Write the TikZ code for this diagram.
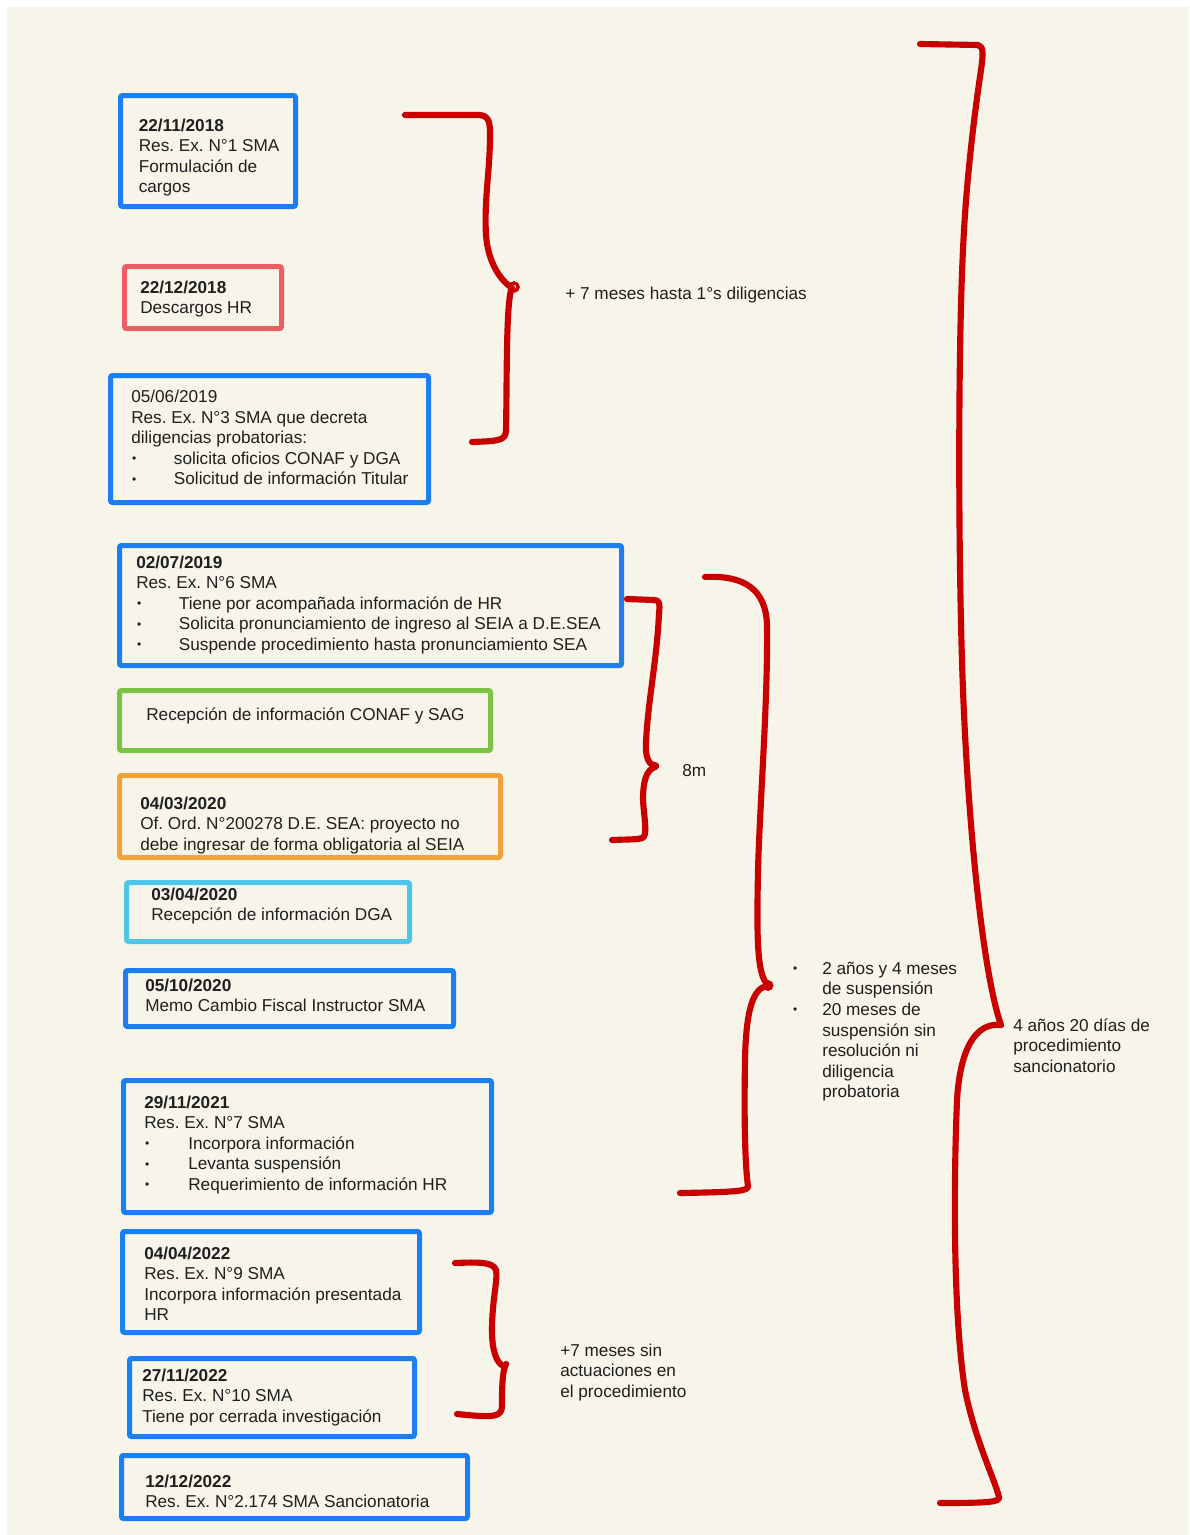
\documentclass[tikz,border=0pt]{standalone}
\usepackage{fontspec}
\setmainfont{Liberation Sans}
\usetikzlibrary{fit}
\frenchspacing
\definecolor{bgcream}{HTML}{F7F4E9}
\definecolor{cblue}{HTML}{1B7FF0}
\definecolor{cpink}{HTML}{E95F65}
\definecolor{cgreen}{HTML}{7CC243}
\definecolor{corange}{HTML}{F2A23A}
\definecolor{clight}{HTML}{4FC5EA}
\definecolor{cred}{HTML}{C80000}
\newcommand\tline[1]{\hbox{#1}}
\newcommand\tbul[2]{\hbox{\makebox[#1][l]{\kern0.6pt\raisebox{1.2pt}{\fontsize{9}{9}\selectfont •}}#2}}
\newcommand\tstack[1]{\vtop{\baselineskip=15.45pt\lineskip=0pt\lineskiplimit=-100pt #1}}
\tikzset{
  box/.style={draw=#1, line width=3.75pt, rounded corners=1.5pt, inner sep=0pt},
  txt/.style={anchor=base west, inner sep=0pt, font=\fontsize{12.9}{15.45}\selectfont\frenchspacing, text=black!88},
  brace/.style={draw=cred, line width=4.6pt, line cap=round, line join=round},
}
\begin{document}
\begin{tikzpicture}[x=0.75pt,y=-0.75pt]
\useasboundingbox (0,0) rectangle (1189,1535);
\fill[white] (0,0) rectangle (1189,1535);
\fill[bgcream] (7,7) rectangle (1189,1535);

% boxes
\node[box=cblue,   fit={(120.5,95.5) (295.5,206.5)}] (b1) {};
\node[box=cpink,   fit={(124.5,266.5) (281.5,328.5)}] (b2) {};
\node[box=cblue,   fit={(110.5,375.5) (428.5,502.5)}] (b3) {};
\node[box=cblue,   fit={(119.5,545.5) (621.5,665.5)}] (b4) {};
\node[box=cgreen,  fit={(119.5,690.5) (490.5,750.5)}] (b5) {};
\node[box=corange, fit={(119.5,775.5) (500.5,857.5)}] (b6) {};
\node[box=clight,  fit={(126.5,882.5) (409.5,941.5)}] (b7) {};
\node[box=cblue,   fit={(125.5,970.5) (453.5,1026.5)}] (b8) {};
\node[box=cblue,   fit={(123.5,1080.5) (491.5,1212.5)}] (b9) {};
\node[box=cblue,   fit={(122.5,1231.5) (419.5,1332.5)}] (b10) {};
\node[box=cblue,   fit={(129.5,1358.5) (414.5,1436.5)}] (b11) {};
\node[box=cblue,   fit={(121.5,1455.5) (467.5,1518.5)}] (b12) {};

% box texts
\node[txt] (t1) at (138.5,131) {\tstack{\tline{\bfseries 22/11/2018}\tline{Res. Ex. N°1 SMA}\tline{Formulación de}\tline{cargos}}};
\node[txt] (t2) at (140,293) {\tstack{\tline{\bfseries 22/12/2018}\tline{Descargos HR}}};
\node[txt] (t3) at (131,402.5) {\tstack{\tline{05/06/2019}\tline{Res. Ex. N°3 SMA que decreta}\tline{diligencias probatorias:}\tbul{32pt}{solicita oficios CONAF y DGA}\tbul{32pt}{Solicitud de información Titular}}};
\node[txt] (t4) at (136,568) {\tstack{\tline{\bfseries 02/07/2019}\tline{Res. Ex. N°6 SMA}\tbul{32pt}{Tiene por acompañada información de HR}\tbul{32pt}{Solicita pronunciamiento de ingreso al SEIA a D.E.SEA}\tbul{32pt}{Suspende procedimiento hasta pronunciamiento SEA}}};
\node[txt] (t5) at (146,720) {\tstack{\tline{Recepción de información CONAF y SAG}}};
\node[txt] (t6) at (140,809) {\tstack{\tline{\bfseries 04/03/2020}\tline{Of. Ord. N°200278 D.E. SEA: proyecto no}\tline{debe ingresar de forma obligatoria al SEIA}}};
\node[txt] (t7) at (151,900) {\tstack{\tline{\bfseries 03/04/2020}\tline{Recepción de información DGA}}};
\node[txt] (t8) at (145,991) {\tstack{\tline{\bfseries 05/10/2020}\tline{Memo Cambio Fiscal Instructor SMA}}};
\node[txt] (t9) at (144,1108) {\tstack{\tline{\bfseries 29/11/2021}\tline{Res. Ex. N°7 SMA}\tbul{33pt}{Incorpora información}\tbul{33pt}{Levanta suspensión}\tbul{33pt}{Requerimiento de información HR}}};
\node[txt] (t10) at (144,1259) {\tstack{\tline{\bfseries 04/04/2022}\tline{Res. Ex. N°9 SMA}\tline{Incorpora información presentada}\tline{HR}}};
\node[txt] (t11) at (142,1381) {\tstack{\tline{\bfseries 27/11/2022}\tline{Res. Ex. N°10 SMA}\tline{Tiene por cerrada investigación}}};
\node[txt] (t12) at (145,1487) {\tstack{\tline{\bfseries 12/12/2022}\tline{Res. Ex. N°2.174 SMA Sancionatoria}}};

% labels
\node[txt] (l1) at (565,299) {+ 7 meses hasta 1°s diligencias};
\node[txt] (l2) at (682,776) {8m};
\node[txt] (l3) at (792,974.3) {\tstack{\tbul{22.5pt}{2 años y 4 meses}\tline{\kern22.5pt de suspensión}\tbul{22.5pt}{20 meses de}\tline{\kern22.5pt suspensión sin}\tline{\kern22.5pt resolución ni}\tline{\kern22.5pt diligencia}\tline{\kern22.5pt probatoria}}};
\node[txt] (l4) at (1013,1031) {\tstack{\tline{4 años 20 días de}\tline{procedimiento}\tline{sancionatorio}}};
\node[txt] (l5) at (560,1356) {\tstack{\tline{+7 meses sin}\tline{actuaciones en}\tline{el procedimiento}}};

% braces
\draw[brace] (405,115) -- (478,115) .. controls (489,115) and (490,122) .. (490,135)
  .. controls (490,170) and (484,200) .. (486,235)
  .. controls (488,262) and (500,280) .. (512,288);
\draw[brace] (511,290) .. controls (506,310) and (507,380) .. (506,430)
  .. controls (506,441) and (498,441) .. (472,442);
\draw[draw=cred, line width=2.6pt] (514,287) circle (4);

\draw[brace] (627,599) -- (654,600) .. controls (660,600) and (660,604) .. (659,613)
  .. controls (657,660) and (648,700) .. (646,742)
  .. controls (645,758) and (649,765) .. (656,766);
\draw[brace] (655,767) .. controls (646,770) and (643,782) .. (643,800)
  .. controls (644,815) and (646,825) .. (645,834)
  .. controls (645,840) and (638,839) .. (612,840);
\fill[cred] (655,766) circle (4);

\draw[brace] (705,577) .. controls (745,575) and (766,590) .. (767,625)
  .. controls (768,700) and (760,800) .. (758,870)
  .. controls (757,930) and (756,975) .. (768,985);
\draw[brace] (768,986) .. controls (753,987) and (746,1010) .. (745,1060)
  .. controls (744,1120) and (745,1165) .. (748,1186)
  .. controls (748,1191) and (740,1192) .. (680,1193);
\fill[cred] (768,985.5) circle (5.5);

\draw[brace] (455,1263) .. controls (480,1262) and (493,1262) .. (496,1270)
  .. controls (498,1280) and (492,1300) .. (492,1330)
  .. controls (492,1350) and (496,1362) .. (503,1366);
\draw[brace] (506,1364) .. controls (502,1372) and (502,1390) .. (502,1405)
  .. controls (502,1417) and (496,1418) .. (457,1414);

\draw[brace] (920,44) -- (978,45) .. controls (984,46) and (983,55) .. (981,70)
  .. controls (975,110) and (966,180) .. (963,250)
  .. controls (958,350) and (958,560) .. (963,690)
  .. controls (968,820) and (982,970) .. (1001,1025);
\draw[brace] (1001,1025) .. controls (975,1022) and (960,1050) .. (957,1100)
  .. controls (953,1200) and (954,1320) .. (965,1390)
  .. controls (975,1440) and (995,1480) .. (999,1497)
  .. controls (1000,1502) and (990,1503) .. (940,1503);
\end{tikzpicture}
\end{document}
